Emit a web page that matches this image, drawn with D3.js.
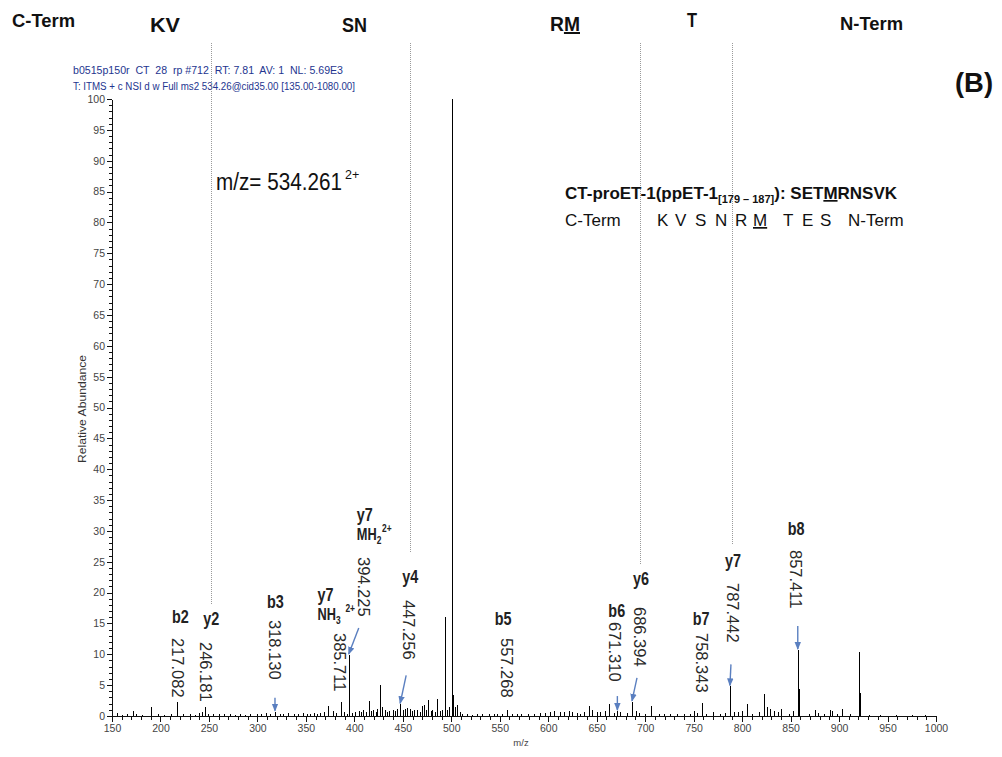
<!DOCTYPE html>
<html><head><meta charset="utf-8">
<script src="https://cdn.jsdelivr.net/npm/d3@7"></script>
<style>
html,body{margin:0;padding:0;background:#fff;}
svg{display:block;}
</style></head>
<body>
<svg id="chart" width="1002" height="757"></svg>
<script>
// MS2 spectrum of precursor m/z 534.261 (2+), relative abundance in %
const peakMz = [155.5,160.2,165.8,172.0,174.8,181.3,190.0,197.5,203.4,210.5,223.0,230.5,236.1,239.8,242.6,249.4,254.0,260.3,265.1,271.8,276.4,282.0,287.7,292.4,299.3,303.2,308.6,313.5,322.9,326.2,332.0,337.4,341.8,347.1,351.2,354.3,358.7,361.9,364.6,368.8,373.2,377.7,381.4,389.4,392.1,397.6,400.8,404.3,407.0,409.4,412.3,415.2,417.5,419.7,421.9,423.8,426.6,428.3,431.7,434.0,436.1,439.6,441.7,443.8,450.3,452.5,454.7,457.5,459.7,461.7,465.0,467.4,470.2,472.0,474.3,476.4,478.6,480.6,482.9,485.0,488.5,490.6,493.5,495.4,498.0,500.5,501.5,504.0,506.4,508.5,511.2,516.0,521.7,526.3,531.6,538.4,543.6,547.0,552.1,562.5,567.8,572.4,578.9,584.8,591.7,596.9,602.0,606.2,611.7,615.8,621.0,624.4,629.6,633.0,636.4,641.6,645.0,650.2,653.6,658.8,662.9,667.4,674.3,681.2,690.7,693.2,700.0,706.2,713.8,719.0,725.9,732.8,739.6,745.9,750.0,753.5,763.1,770.0,777.5,782.7,792.0,795.4,800.0,805.0,810.2,817.0,822.9,825.7,828.4,832.5,836.7,840.2,848.0,852.5,858.9,868.6,875.5,877.9,884.1,891.0,892.7,897.9,903.0,911.6,920.9,921.9,930.5,942.0,958.3,975.6,988.2];
const peakIntensity = [0.5,0.2,0.3,0.8,0.3,0.2,1.4,0.3,0.2,0.3,0.3,0.3,0.2,0.5,0.6,0.4,0.4,0.3,0.3,0.3,0.2,0.3,0.2,0.3,0.4,0.3,0.5,0.3,0.3,0.4,0.5,0.3,0.4,0.5,0.4,0.4,0.5,0.4,0.5,0.6,1.7,0.8,0.5,0.6,0.4,0.5,0.7,0.8,0.6,0.9,0.7,2.4,0.8,1.0,0.7,1.1,5.0,1.5,0.9,0.7,0.8,1.0,0.8,1.1,1.0,1.2,1.3,1.2,0.8,0.9,1.0,0.7,1.7,1.8,0.9,2.6,0.8,0.9,0.7,2.7,0.8,1.0,16.0,1.0,1.5,100,3.4,1.5,1.8,0.7,0.4,0.3,0.2,0.3,0.3,0.4,0.3,0.4,0.3,0.3,0.3,0.4,0.3,0.3,0.5,0.5,0.7,0.8,0.6,0.7,0.8,0.7,0.5,0.4,0.6,1.7,0.9,0.6,0.7,0.8,1.9,0.5,0.6,0.5,0.8,0.5,0.4,1.7,0.4,0.3,0.3,0.3,0.4,0.4,0.8,0.5,0.4,0.6,0.4,0.5,0.6,0.7,0.8,1.9,0.4,0.6,3.5,1.5,1.2,0.8,0.7,1.1,0.4,0.8,4.4,0.3,0.9,0.5,0.3,0.9,0.8,0.3,1.2,0.3,10.3,3.7,0.2,0.2,0.2,0.2,0.2];

// annotated fragment ions
const ionNames = ["b2","y2","b3","y7","y7","y4","b5","b6","y6","b7","y7","b8"];
const ionCharge = ["","","","NH3","MH2","","","","","","",""];
const ionMz = [217.082,246.181,318.130,385.711,394.225,447.256,557.268,671.310,686.394,758.343,787.442,857.411];
const ionIntensity = [2.2,1.5,0.7,2.3,9.9,1.9,1.0,0.8,2.3,2.1,4.8,10.7];

const xTicks = [150,200,250,300,350,400,450,500,550,600,650,700,750,800,850,900,950,1000];
const yTicks = [0,5,10,15,20,25,30,35,40,45,50,55,60,65,70,75,80,85,90,95,100];
const residueGroups = ["C-Term","KV","SN","RM","T","N-Term"];

// ---- layout ----
const SANS = "'Liberation Sans',Arial,sans-serif";
const NARROW_SCALE = 0.8;          // condensed look for the label font
const blue = "#5a7fc0";

const svg = d3.select("#chart");
const x = d3.scaleLinear().domain([150, 1000]).range([112, 936]);
const y = d3.scaleLinear().domain([0, 100]).range([716, 99]);

// condensed text anchored at (tx, ty)
function narrowText(parent, tx, ty, sx = NARROW_SCALE) {
  return parent.append("text")
    .attr("transform", `translate(${tx},${ty}) scale(${sx},1)`)
    .attr("font-family", SANS);
}

// label placement for each annotated ion (pixel offsets from the peak, absolute y)
const ionLayout = [
  {nx:-5,  ny:623, vx:1,   vy:638},
  {nx:-2,  ny:625, vx:1,   vy:642, guide:605},
  {nx:-8,  ny:608, vx:0,   vy:620, arrow:[0,-13]},
  {nx:-23, ny:601, vx:-1,  vy:633},
  {nx:8,   ny:521, vx:15,  vy:557, arrow:[10,-26]},
  {nx:2,   ny:583, vx:9,   vy:600, arrow:[6,-28], guide:552},
  {nx:-12, ny:625, vx:0,   vy:638},
  {nx:-9,  ny:617, vx:-2,  vy:622, arrow:[0,-14]},
  {nx:1,   ny:585, vx:8,   vy:607, arrow:[5,-23], guide:565},
  {nx:-9,  ny:625, vx:0,   vy:633},
  {nx:-5,  ny:567, vx:3,   vy:583, arrow:[1,-21], guide:545},
  {nx:-10, ny:535, vx:-2,  vy:550, arrow:[0,-23]}
];
const residueX = [12, 150, 342, 550, 687, 840];
const residueY = [27, 32, 32, 31, 27, 30];
const residueW = [63, 30, 25, 30, 10, 63];

const defs = svg.append("defs");
defs.append("marker").attr("id","arrowhead")
  .attr("markerUnits","userSpaceOnUse")
  .attr("viewBox","0 0 8 8").attr("refX",7).attr("refY",4)
  .attr("markerWidth",8).attr("markerHeight",8).attr("orient","auto")
  .append("path").attr("d","M0,0.8 L8,4 L0,7.2 Z").attr("fill",blue);

// ---- header: residue groups between y-ion cleavages ----
residueGroups.forEach((g, i) => {
  const big = (g.length <= 2);
  const t = svg.append("text")
    .attr("x", residueX[i]).attr("y", residueY[i])
    .attr("font-family", SANS).attr("font-weight","bold")
    .attr("font-size", big ? 20 : 18.5).attr("fill","#111")
    .attr("textLength", residueW[i]).attr("lengthAdjust","spacingAndGlyphs");
  if (g === "RM") {
    t.append("tspan").text("R");
    t.append("tspan").attr("text-decoration","underline").text("M");
  } else t.text(g);
});
svg.append("text").attr("x",955).attr("y",92)
  .attr("font-family",SANS).attr("font-weight","bold").attr("font-size",28)
  .attr("textLength",38).attr("lengthAdjust","spacingAndGlyphs").attr("fill","#111")
  .text("(B)");

// scan header
const info = svg.append("g").attr("font-family",SANS).attr("font-size",10).attr("fill","#24358f");
info.append("text").attr("x",73).attr("y",74)
  .attr("textLength",270).attr("lengthAdjust","spacingAndGlyphs")
  .attr("xml:space","preserve")
  .text("b0515p150r  CT  28  rp #712  RT: 7.81  AV: 1  NL: 5.69E3");
info.append("text").attr("x",73).attr("y",90)
  .attr("textLength",282).attr("lengthAdjust","spacingAndGlyphs")
  .text("T: ITMS + c NSI d w Full ms2 534.26@cid35.00 [135.00-1080.00]");

// ---- guide lines from y-ion labels to the header ----
ionLayout.forEach((L, i) => {
  if (L.guide === undefined) return;
  const gx = Math.round(x(ionMz[i]) + L.nx + 7.5) + 0.5;
  svg.append("line").attr("x1",gx).attr("x2",gx).attr("y1",43).attr("y2",L.guide)
    .attr("stroke","#9a9a9a").attr("stroke-width",1).attr("stroke-dasharray","1,1");
});

// ---- axes ----
const axisG = svg.append("g").attr("font-family",SANS);
const xMinor = d3.range(150, 1001, 10);
axisG.append("g").attr("transform","translate(0,716)")
  .call(d3.axisBottom(x).tickValues(xMinor).tickSize(4).tickFormat(""))
  .call(g => g.select(".domain").remove());
axisG.append("g").attr("transform","translate(0,716)")
  .call(d3.axisBottom(x).tickValues(xTicks).tickSize(6).tickSizeOuter(0).tickPadding(3).tickFormat(d3.format("d")))
  .call(g => g.selectAll("text").attr("font-size",10.5).attr("fill","#444").attr("font-family",SANS));
const yMinor = d3.range(0, 101, 1);
axisG.append("g").attr("transform","translate(112,0)")
  .call(d3.axisLeft(y).tickValues(yMinor).tickSize(3).tickFormat(""))
  .call(g => g.select(".domain").remove());
axisG.append("g").attr("transform","translate(112,0)")
  .call(d3.axisLeft(y).tickValues(yTicks).tickSize(5).tickSizeOuter(0).tickPadding(2).tickFormat(d3.format("d")))
  .call(g => g.selectAll("text").attr("font-size",10.5).attr("fill","#444").attr("font-family",SANS));
axisG.selectAll("line, path").attr("stroke","#111").attr("shape-rendering","crispEdges");

svg.append("text").attr("x",521).attr("y",746).attr("text-anchor","middle")
  .attr("font-family",SANS).attr("font-size",9.5).attr("fill","#444").text("m/z");
svg.append("text").attr("transform","translate(86,409) rotate(-90)").attr("text-anchor","middle")
  .attr("font-family",SANS).attr("font-size",11.5).attr("fill","#333")
  .attr("textLength",108).attr("lengthAdjust","spacingAndGlyphs")
  .text("Relative Abundance");

// ---- spectrum sticks ----
const allMz = peakMz.concat(ionMz);
const allI = peakIntensity.concat(ionIntensity);
svg.append("g").selectAll("line").data(d3.range(allMz.length)).join("line")
  .attr("x1", i => Math.round(x(allMz[i])) + 0.5)
  .attr("x2", i => Math.round(x(allMz[i])) + 0.5)
  .attr("y1", y(0))
  .attr("y2", i => y(allI[i]))
  .attr("stroke","#000").attr("stroke-width",1).attr("shape-rendering","crispEdges");

// ---- precursor and peptide annotation ----
const precText = svg.append("text")
  .attr("font-family",SANS).attr("font-size",24).attr("fill","#111")
  .text("m/z= 534.261");
const precW = precText.node().getComputedTextLength();
precText.attr("transform", `translate(216,190) scale(${126 / precW},1)`);
svg.append("text").attr("x",345).attr("y",179)
  .attr("font-family",SANS).attr("font-size",12.5).attr("fill","#111")
  .text("2+");

const pep1 = svg.append("text").attr("x",565).attr("y",199)
  .attr("font-family",SANS).attr("font-weight","bold").attr("font-size",17).attr("fill","#111");
pep1.append("tspan").text("CT-proET-1(ppET-1");
pep1.append("tspan").attr("dy",4).attr("font-size",11).text("[179 – 187]");
pep1.append("tspan").attr("dy",-4).text("): SET");
pep1.append("tspan").attr("text-decoration","underline").text("M");
pep1.append("tspan").text("RNSVK");

const seqTokens = ["C-Term","K","V","S","N","R","M","T","E","S","N-Term"];
const seqX = [565, 657, 675, 695, 715, 735, 753, 783, 802, 820, 848];
const pep2 = svg.append("g").attr("font-family",SANS).attr("font-size",17).attr("fill","#111");
seqTokens.forEach((t, i) => {
  pep2.append("text").attr("x", seqX[i]).attr("y",226)
    .attr("text-decoration", t === "M" ? "underline" : null).text(t);
});

// ---- fragment ion labels ----
const labG = svg.append("g");
ionNames.forEach((name, i) => {
  const L = ionLayout[i];
  const px = x(ionMz[i]);
  narrowText(labG, px + L.nx, L.ny)
    .attr("font-weight","bold").attr("font-size",18).attr("fill","#222")
    .text(name);
  if (ionCharge[i]) {
    const c = narrowText(labG, px + L.nx, L.ny + 19)
      .attr("font-weight","bold").attr("font-size",16).attr("fill","#222");
    c.append("tspan").text(ionCharge[i].slice(0,2));
    c.append("tspan").attr("dy",4).attr("font-size",10.5).text(ionCharge[i].slice(2));
    c.append("tspan").attr("dy",-12).attr("font-size",10.5)
      .attr("dx", ionCharge[i] === "NH3" ? 6 : 1).text("2+");
  }
  labG.append("text")
    .attr("transform", `translate(${px + L.vx},${L.vy}) rotate(90)`)
    .attr("dominant-baseline","central")
    .attr("font-family",SANS).attr("font-size",16.5).attr("fill","#2a2a2a")
    .text(ionMz[i].toFixed(3));
  if (L.arrow) {
    const tipY = y(ionIntensity[i]) - 1;
    labG.append("line")
      .attr("x1", px + L.arrow[0]).attr("y1", tipY + L.arrow[1])
      .attr("x2", px).attr("y2", tipY)
      .attr("stroke", blue).attr("stroke-width",1.4)
      .attr("marker-end","url(#arrowhead)");
  }
});
</script>
</body></html>
